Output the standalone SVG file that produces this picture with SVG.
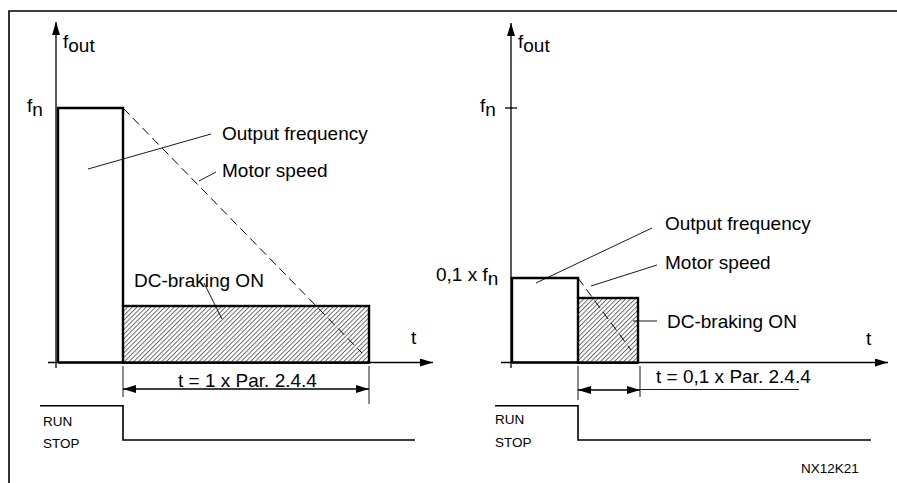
<svg xmlns="http://www.w3.org/2000/svg" width="897" height="483" viewBox="0 0 897 483">
<style>
text{font-family:"Liberation Sans",Arial,sans-serif;fill:#000}
.lbl{font-size:19px}
.sm{font-size:13.5px}
.ax{stroke:#000;stroke-width:1.3;fill:none}
.thk{stroke:#000;stroke-width:2.4;fill:none}
.thin{stroke:#000;stroke-width:0.9;fill:none}
.dash{stroke:#000;stroke-width:1;fill:none;stroke-dasharray:9,5}
.sig{stroke:#000;stroke-width:1.6;fill:none}
.hatch{fill:url(#hp);stroke:#000;stroke-width:2.4}
</style>
<defs>
<marker id="ah" viewBox="0 0 13 8" refX="13" refY="4" markerWidth="13" markerHeight="8" orient="auto-start-reverse" markerUnits="userSpaceOnUse"><path d="M0,0 L13,4 L0,8 z" fill="#000"/></marker>
<pattern id="hp" width="3.3" height="3.3" patternUnits="userSpaceOnUse" patternTransform="rotate(45)"><rect width="3.3" height="3.3" fill="#fff"/><line x1="0.5" y1="0" x2="0.5" y2="3.3" stroke="#333" stroke-width="0.7"/></pattern>
</defs>
<rect width="897" height="483" fill="#fff"/>
<path id="frame" d="M9,483 V11 H897" stroke="#000" stroke-width="1.6" fill="none"/>

<g id="left-panel">
  <g id="l-axes">
    <line class="ax" x1="56" y1="368" x2="56" y2="22" marker-end="url(#ah)"/>
    <line class="ax" x1="48" y1="362.5" x2="433" y2="362.5" marker-end="url(#ah)"/>
    <text class="lbl" x="63" y="48">f<tspan dy="4">out</tspan></text>
    <text class="lbl" x="27" y="112">f<tspan dy="4">n</tspan></text>
    <text class="lbl" x="411" y="344">t</text>
  </g>
  <g id="l-output-frequency">
    <polyline class="thk" points="58,362.5 58,108 123,108 123,306"/>
    <line class="thk" x1="58" y1="362.5" x2="369" y2="362.5"/>
    <text class="lbl" x="222" y="139.5">Output frequency</text>
  </g>
  <g id="l-dc-braking">
    <rect class="hatch" x="123" y="306" width="246" height="56.5"/>
    <text class="lbl" x="134" y="287">DC-braking ON</text>
  </g>
  <g id="l-motor-speed">
    <text class="lbl" x="222" y="176.5">Motor speed</text>
  </g>
  <g id="l-timing">
    <text class="lbl" x="178" y="386.5">t = 1 x Par. 2.4.4</text>
  </g>
  <g id="l-runstop">
    <polyline class="sig" points="40,405.7 123,405.7 123,440 415,440"/>
    <text class="sm" x="43" y="426">RUN</text>
    <text class="sm" x="43" y="448">STOP</text>
  </g>
</g>

<g id="right-panel">
  <g id="r-axes">
    <line class="ax" x1="511" y1="368" x2="511" y2="23" marker-end="url(#ah)"/>
    <line class="ax" x1="501" y1="362.5" x2="888" y2="362.5" marker-end="url(#ah)"/>
    <line class="ax" x1="505" y1="108" x2="517" y2="108"/>
    <text class="lbl" x="518" y="48">f<tspan dy="4">out</tspan></text>
    <text class="lbl" x="480" y="112">f<tspan dy="4">n</tspan></text>
    <text class="lbl" x="866" y="345">t</text>
    <text class="lbl" x="436" y="281">0,1 x f<tspan dy="4">n</tspan></text>
  </g>
  <g id="r-output-frequency">
    <polyline class="thk" points="512,362.5 512,278 578,278 578,298"/>
    <line class="thk" x1="512" y1="362.5" x2="638" y2="362.5"/>
    <text class="lbl" x="665" y="229.5">Output frequency</text>
  </g>
  <g id="r-dc-braking">
    <rect class="hatch" x="578" y="298" width="60" height="64.5"/>
    <text class="lbl" x="667" y="327.5">DC-braking ON</text>
  </g>
  <g id="r-motor-speed">
    <text class="lbl" x="665" y="269">Motor speed</text>
  </g>
  <g id="r-timing">
    <text class="lbl" x="656" y="383">t = 0,1 x Par. 2.4.4</text>
  </g>
  <g id="r-runstop">
    <polyline class="sig" points="495,405.7 578,405.7 578,440 871,440"/>
    <text class="sm" x="495" y="423.5">RUN</text>
    <text class="sm" x="495" y="446.5">STOP</text>
  </g>
  <text id="code" class="sm" x="801" y="473.3">NX12K21</text>
</g>

<g id="connectors">
  <line class="dash" x1="123" y1="108" x2="362" y2="353"/>
  <line class="thin" x1="88" y1="169" x2="211" y2="134"/>
  <line class="thin" x1="199" y1="181" x2="216" y2="172"/>
  <line class="thin" x1="204" y1="283" x2="222" y2="319"/>
  <line class="thin" x1="123" y1="366" x2="123" y2="397"/>
  <line class="thin" x1="369" y1="366" x2="369" y2="404"/>
  <line class="ax" x1="123" y1="389" x2="369" y2="389" marker-start="url(#ah)" marker-end="url(#ah)"/>

  <line class="dash" x1="578" y1="278" x2="631" y2="350"/>
  <line class="thin" x1="536" y1="283" x2="652" y2="228"/>
  <line class="thin" x1="591" y1="286" x2="657" y2="265"/>
  <line class="thin" x1="633" y1="321" x2="657" y2="321"/>
  <line class="thin" x1="578" y1="366" x2="578" y2="400"/>
  <line class="thin" x1="640" y1="366" x2="640" y2="397"/>
  <line class="ax" x1="578" y1="390" x2="640" y2="390" marker-start="url(#ah)" marker-end="url(#ah)"/>
  <line class="thin" x1="640" y1="389.5" x2="799" y2="389.5"/>
</g>
</svg>
